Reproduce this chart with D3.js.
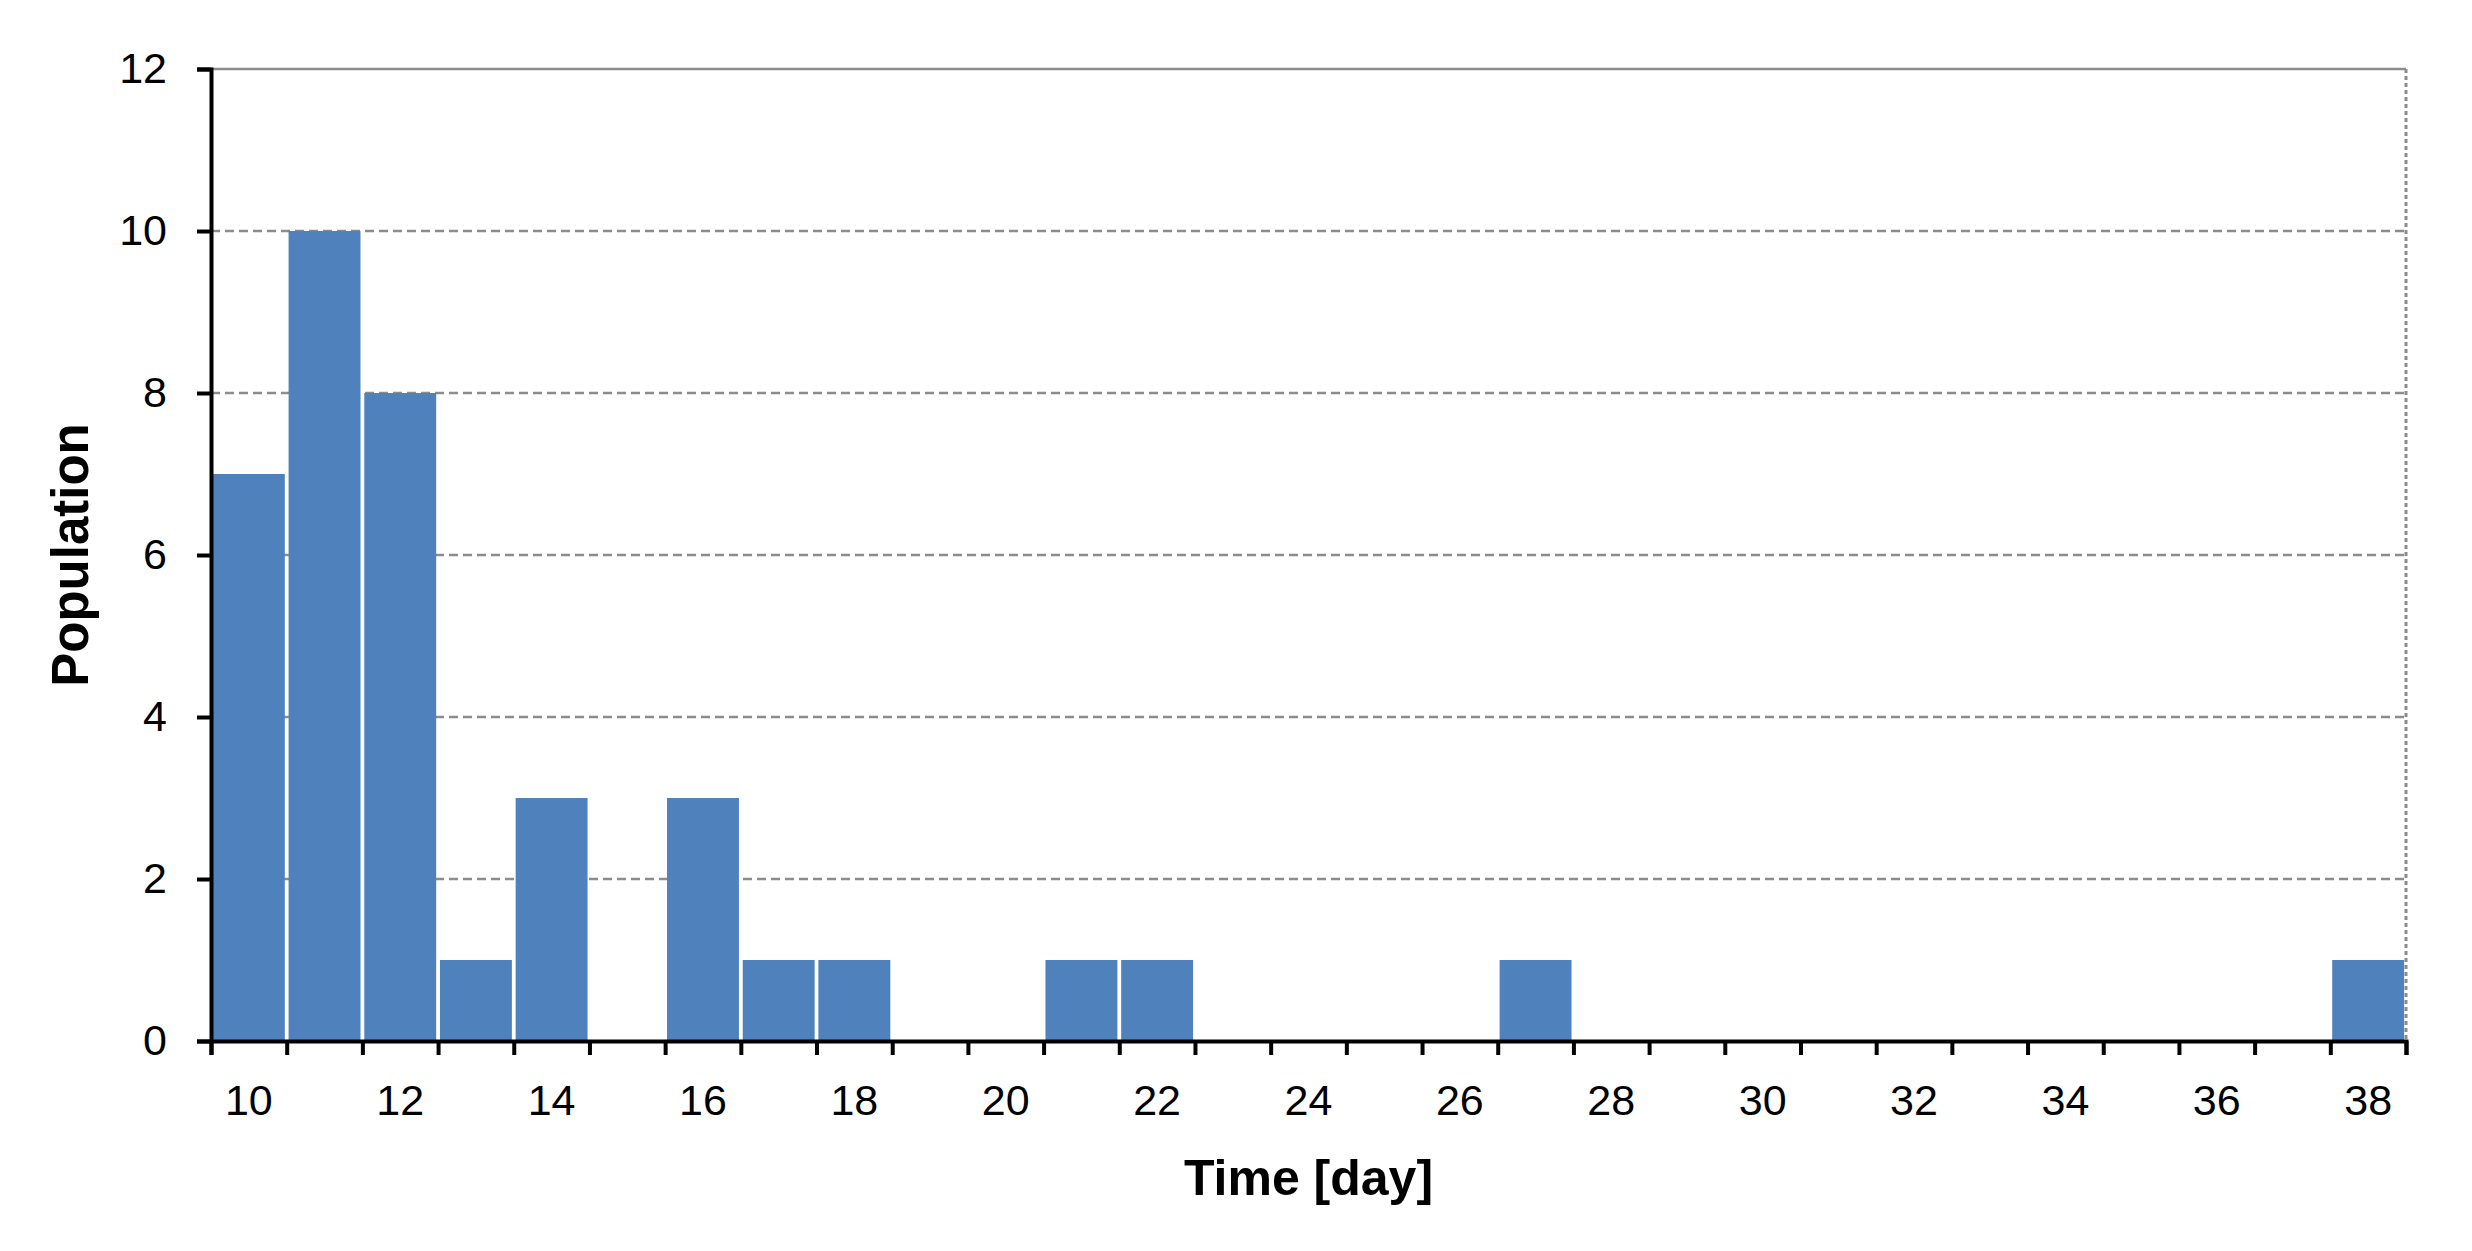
<!DOCTYPE html>
<html>
<head>
<meta charset="utf-8">
<script src="https://cdn.jsdelivr.net/npm/d3@7"></script>
<style>
  html, body { margin: 0; padding: 0; background: #fff; }
  svg { display: block; font-family: "Liberation Sans", Arial, sans-serif; }
</style>
</head>
<body>
<svg id="chart" width="2472" height="1251"></svg>
<script>
// data
const days = ["10","11","12","13","14","15","16","17","18","19","20","21","22","23","24",
              "25","26","27","28","29","30","31","32","33","34","35","36","37","38"];
const population = [7,10,8,1,3,0,3,1,1,0,0,1,1,0,0,0,0,1,0,0,0,0,0,0,0,0,0,0,1];
const dayLabels = ["10","12","14","16","18","20","22","24","26","28","30","32","34","36","38"];
const yTicks = [0, 2, 4, 6, 8, 10, 12];

const W = 2472, H = 1251;
const margin = {top: 69, right: 66, bottom: 210, left: 211};
const innerW = W - margin.left - margin.right;
const innerH = H - margin.top - margin.bottom;

const svg = d3.select('#chart');
const g = svg.append('g').attr('transform', `translate(${margin.left},${margin.top})`);

const x = d3.scaleBand().domain(days).range([0, innerW]).paddingInner(0.05).paddingOuter(0.025);
// continuous scale over the same span, for ticks on category boundaries
const xEdge = d3.scaleLinear().domain([9.5, 38.5]).range([0, innerW]);
const y = d3.scaleLinear().domain([0, 12]).range([innerH, 0]);

// dashed gridlines
g.append('g')
    .selectAll('line')
    .data(yTicks.filter(t => t > 0 && t < 12))
    .enter().append('line')
    .attr('x1', 0).attr('x2', innerW)
    .attr('y1', d => y(d)).attr('y2', d => y(d))
    .style('stroke', '#8c8c8c')
    .style('stroke-width', 2.5)
    .style('stroke-dasharray', '9,5');

// top border (solid) and right border (dotted)
g.append('line')
    .attr('x1', 0).attr('x2', innerW)
    .attr('y1', y(12)).attr('y2', y(12))
    .style('stroke', '#8c8c8c').style('stroke-width', 2.5);
g.append('line')
    .attr('x1', innerW).attr('x2', innerW)
    .attr('y1', y(12)).attr('y2', y(0))
    .style('stroke', '#8c8c8c').style('stroke-width', 3)
    .style('stroke-dasharray', '4,3');

// bars
g.append('g')
    .selectAll('rect')
    .data(days.map((d, i) => ({day: d, value: population[i]})).filter(d => d.value > 0))
    .enter().append('rect')
    .attr('x', d => x(d.day))
    .attr('width', x.bandwidth())
    .attr('y', d => y(d.value))
    .attr('height', d => y(0) - y(d.value))
    .style('fill', '#4f81bd');

// y axis
const yAxis = g.append('g')
    .call(d3.axisLeft(y).tickValues(yTicks).tickSize(14).tickPadding(30).tickFormat(d3.format('d')));
yAxis.select('.domain').style('stroke', '#000').style('stroke-width', 4);
yAxis.selectAll('.tick line').style('stroke', '#000').style('stroke-width', 4);
yAxis.selectAll('.tick text').style('font-size', '43px').style('fill', '#000');

// x axis: ticks at boundaries
const xTicksAxis = g.append('g')
    .attr('transform', `translate(0,${innerH})`)
    .call(d3.axisBottom(xEdge).tickValues(d3.range(9.5, 39, 1)).tickSize(14).tickFormat(''));
xTicksAxis.select('.domain').style('stroke', '#000').style('stroke-width', 4);
xTicksAxis.selectAll('.tick line').style('stroke', '#000').style('stroke-width', 4);

// x axis: labels on every other category
const xLabels = g.append('g')
    .attr('transform', `translate(0,${innerH})`)
    .call(d3.axisBottom(x).tickValues(dayLabels).tickSize(0).tickPadding(43));
xLabels.select('.domain').remove();
xLabels.selectAll('.tick text').style('font-size', '43px').style('fill', '#000');

// axis titles
svg.append('text')
    .attr('transform', `translate(88,${margin.top + innerH / 2}) rotate(-90)`)
    .attr('text-anchor', 'middle')
    .style('font-size', '51px')
    .style('font-weight', 'bold')
    .text('Population');

svg.append('text')
    .attr('x', margin.left + innerW / 2)
    .attr('y', 1195)
    .attr('text-anchor', 'middle')
    .style('font-size', '50px')
    .style('font-weight', 'bold')
    .text('Time [day]');
</script>
</body>
</html>
